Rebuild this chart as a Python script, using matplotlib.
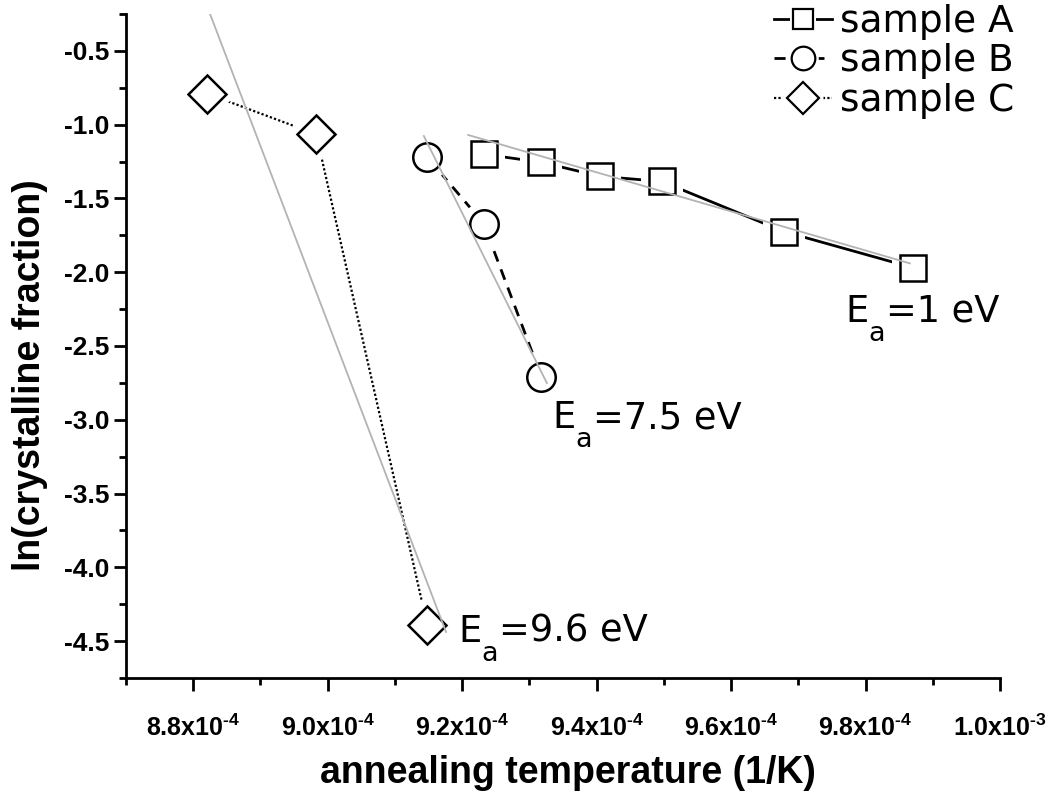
import numpy as np
import matplotlib
matplotlib.use("Agg")
import matplotlib.pyplot as plt
from matplotlib.lines import Line2D
from matplotlib.ticker import FixedLocator, FixedFormatter, MultipleLocator
from matplotlib.legend_handler import HandlerTuple

plt.rcParams["axes.unicode_minus"] = False
plt.rcParams["mathtext.fontset"] = "custom"
plt.rcParams["mathtext.rm"] = "Liberation Sans:bold"
plt.rcParams["mathtext.default"] = "rm"
plt.rcParams["font.family"] = ["DejaVu Sans"]

# inverse annealing temperature (1/K) vs ln(crystalline fraction)
a_x = np.array([9.232, 9.318, 9.405, 9.497, 9.679, 9.871]) * 1e-4
a_y = [-1.20, -1.255, -1.35, -1.385, -1.725, -1.97]
b_x = np.array([9.148, 9.232, 9.318]) * 1e-4
b_y = [-1.22, -1.67, -2.71]
c_x = np.array([8.821, 8.983, 9.148]) * 1e-4
c_y = [-0.79, -1.065, -4.39]

# Arrhenius fit lines (end points)
fit_a_x = np.array([9.209, 9.866]) * 1e-4
fit_a_y = [-1.07, -1.94]
fit_b_x = np.array([9.143, 9.326]) * 1e-4
fit_b_y = [-1.077, -2.751]
fit_c_x = np.array([8.825, 9.176]) * 1e-4
fit_c_y = [-0.25, -4.438]

series_labels = ["sample A", "sample B", "sample C"]
ea_values = ["1", "7.5", "9.6"]

x_ticks = np.array([8.8, 9.0, 9.2, 9.4, 9.6, 9.8, 10.0]) * 1e-4
x_tick_labels = [r"8.8x10$^{\text{-}4}$", r"9.0x10$^{\text{-}4}$",
                 r"9.2x10$^{\text{-}4}$", r"9.4x10$^{\text{-}4}$",
                 r"9.6x10$^{\text{-}4}$", r"9.8x10$^{\text{-}4}$",
                 r"1.0x10$^{\text{-}3}$"]
y_ticks = [-4.5, -4.0, -3.5, -3.0, -2.5, -2.0, -1.5, -1.0, -0.5]

W, H = 1052, 792
fig = plt.figure(figsize=(W / 100, H / 100), dpi=100)
ax = fig.add_axes([126 / W, 1 - 678 / H, 874 / W, 664 / H])

# marker, line style, width factor, marker size (plot), marker size (legend)
styles = [
    ("s", "-", 1.0, 18.5, 14),
    ("o", (0, (4, 3)), 1.0, 20.5, 17),
    ("D", (0, (1, 1)), 0.8, 19.0, 16),
]
gap = 12
for (x, y), (mk, ls, lwf, ms, _) in zip([(a_x, a_y), (b_x, b_y), (c_x, c_y)], styles):
    ax.plot(x, y, ls=ls, color="black", lw=2.0 * lwf, zorder=2)
    ax.plot(x, y, ls="none", marker=mk, ms=ms + gap, mfc="white",
            mec="white", mew=0, zorder=3)
    ax.plot(x, y, ls="none", marker=mk, ms=ms, mfc="white",
            mec="black", mew=1.8, zorder=4)

fit_color = "#b3b3b3"
for fx, fy in [(fit_a_x, fit_a_y), (fit_b_x, fit_b_y), (fit_c_x, fit_c_y)]:
    ax.plot(fx, fy, color=fit_color, lw=1.3, zorder=5)

# activation energy annotations: E, lowered subscript a, then the value
ea_pos = [(9.7695e-4, -2.337), (9.3336e-4, -3.056), (9.1938e-4, -4.506)]
for (tx, ty), ev in zip(ea_pos, ea_values):
    t_e = ax.text(tx, ty, "E", fontsize=26.5, ha="left", va="baseline",
                  zorder=6)
    t_a = ax.annotate("a", xy=(1, 0), xycoords=t_e, xytext=(0, -12.5),
                      textcoords="offset points", fontsize=19.5,
                      ha="left", va="bottom", zorder=6)
    ax.annotate("=" + ev + " eV", xy=(1, 0), xycoords=(t_a, t_e),
                xytext=(1, 0), textcoords="offset points", fontsize=26.5,
                ha="left", va="bottom", zorder=6)

ax.set_xlim(8.7e-4, 1.0e-3)
ax.set_ylim(-4.75, -0.25)
ax.xaxis.set_major_locator(FixedLocator(x_ticks))
ax.xaxis.set_major_formatter(FixedFormatter(x_tick_labels))
ax.xaxis.set_minor_locator(MultipleLocator(1e-5))
ax.yaxis.set_major_locator(FixedLocator(y_ticks))
ax.yaxis.set_minor_locator(MultipleLocator(0.25))
ax.set_yticklabels([f"{v:.1f}" for v in y_ticks])

for side in ("top", "right"):
    ax.spines[side].set_visible(False)
for side in ("left", "bottom"):
    ax.spines[side].set_linewidth(2.0)
ax.tick_params(which="major", direction="out", length=9, width=2.0)
ax.tick_params(which="minor", direction="out", length=5, width=2.0)
ax.tick_params(axis="x", which="major", pad=17)
ax.tick_params(axis="y", which="major", pad=3)
for lab in ax.get_xticklabels():
    lab.set_family("Liberation Sans")
    lab.set_fontweight("bold")
    lab.set_fontsize(18)
for lab in ax.get_yticklabels():
    lab.set_family("Liberation Sans")
    lab.set_fontweight("bold")
    lab.set_fontsize(19)

fig.text(30 / W, 1 - 375 / H, "ln(crystalline fraction)", rotation=90,
         ha="center", va="center", family="Liberation Sans",
         fontweight="bold", fontsize=27)
fig.text(568 / W, 1 - 773 / H, "annealing temperature (1/K)",
         ha="center", va="center", family="Liberation Sans",
         fontweight="bold", fontsize=27)

# legend keys: line broken around a white-filled marker
leg_handles = []
for mk, ls, lwf, _, lms in styles:
    leg_handles.append((
        Line2D([], [], ls=ls, color="black", lw=2.0 * lwf),
        Line2D([], [], ls="none", marker=mk, ms=lms + 5, mfc="white",
               mec="white", mew=0),
        Line2D([], [], ls="none", marker=mk, ms=lms, mfc="white",
               mec="black", mew=1.6),
    ))
fig.legend(leg_handles, series_labels, loc="upper left",
           bbox_to_anchor=(774 / W, 1 - 4 / H), frameon=False,
           fontsize=27, handlelength=1.55, handletextpad=0.2,
           labelspacing=0.09, borderpad=0, borderaxespad=0,
           handler_map={tuple: HandlerTuple(ndivide=1, pad=0)})

fig.savefig("out.png", dpi=100, facecolor="white")
